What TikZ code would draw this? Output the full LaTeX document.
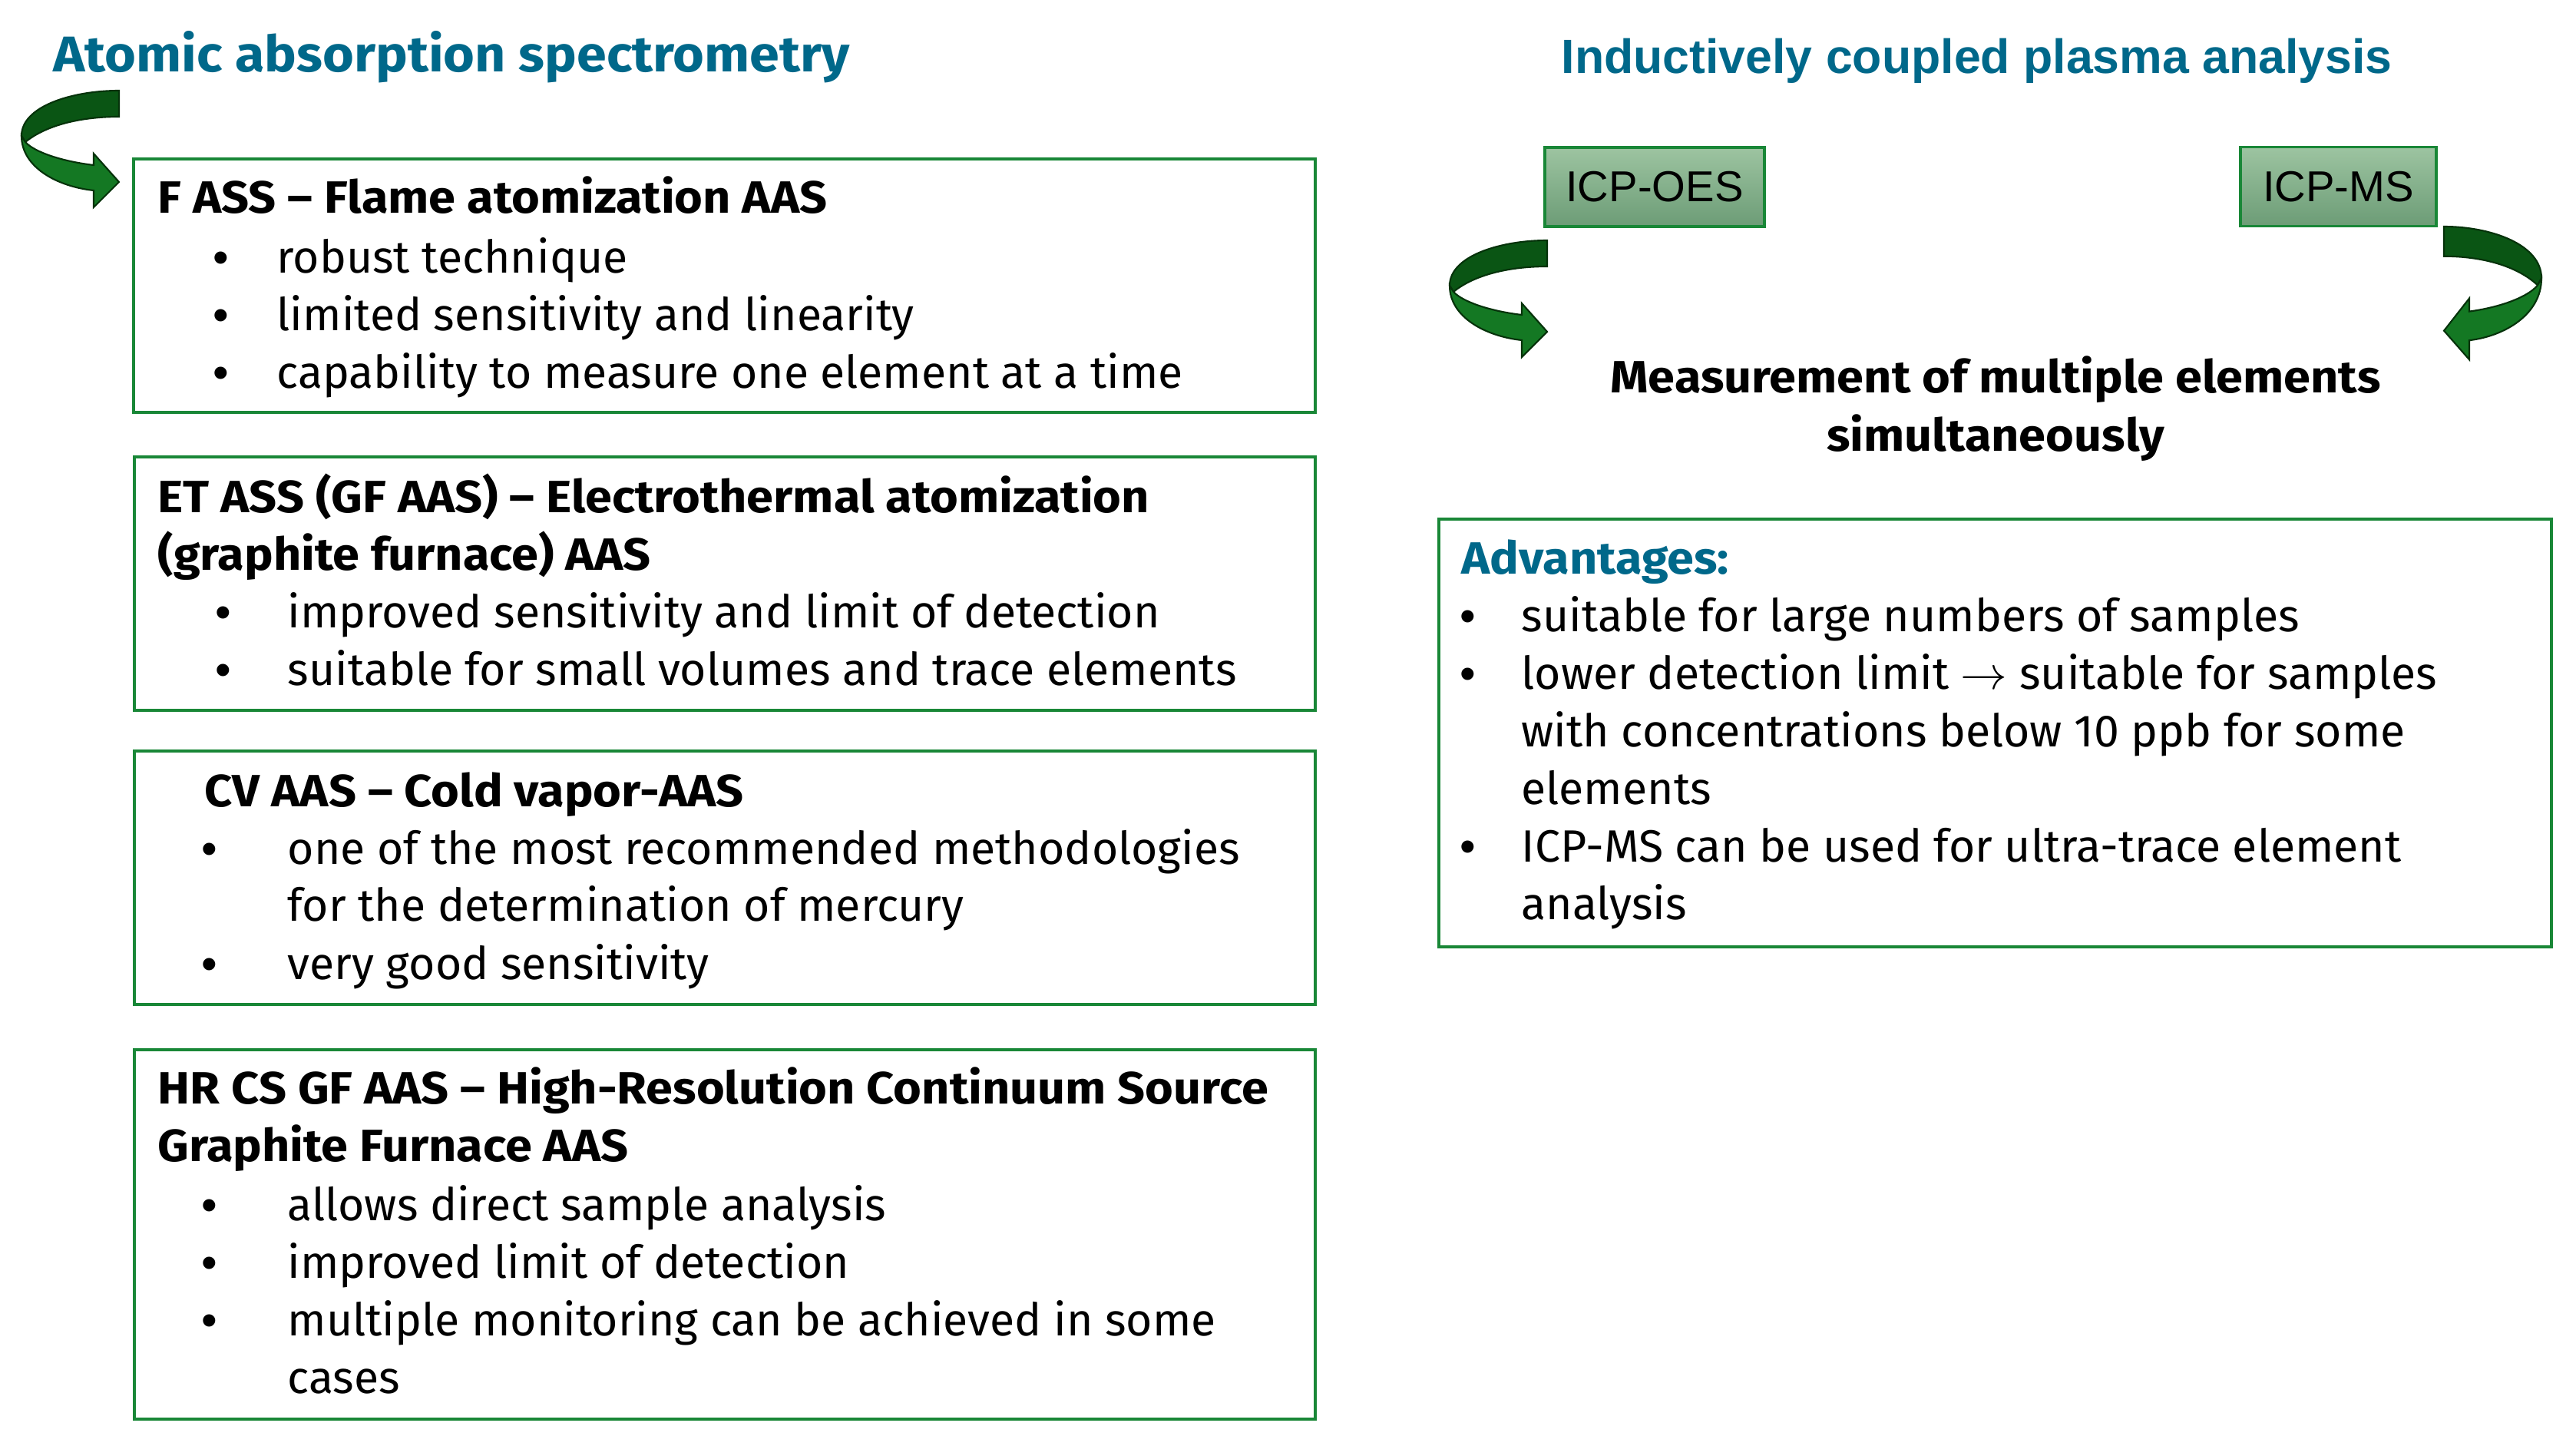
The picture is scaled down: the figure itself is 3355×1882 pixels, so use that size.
\documentclass[tikz,border=0pt]{standalone}
\usepackage{fontspec}
\setmainfont{Fira Sans}[BoldFeatures={FakeStretch=1.07}]
\newfontfamily\arialfont{Liberation Sans}
\usetikzlibrary{positioning}

\definecolor{boxgreen}{RGB}{25,135,55}
\definecolor{headteal}{RGB}{0,104,138}
\definecolor{swirldark}{RGB}{10,85,20}
\definecolor{swirllight}{RGB}{20,120,35}
\definecolor{swirledge}{RGB}{5,50,10}
\definecolor{icptop}{RGB}{157,196,161}
\definecolor{icpbottom}{RGB}{108,156,118}

\newcommand\txtsize{\fontsize{16.75}{20}\selectfont}
\newcommand\headsize{\fontsize{18.6}{22}\selectfont}

\tikzset{
  boxframe/.style={draw=boxgreen, line width=1.2pt},
  sectionhead/.style={anchor=base west, inner sep=0pt, font=\headsize\bfseries, text=headteal},
  boxhead/.style={anchor=base west, inner sep=0pt, font=\txtsize\bfseries},
  itemtext/.style={anchor=base west, inner sep=0pt, font=\txtsize},
  bulletdot/.style={anchor=base, inner sep=0pt, font=\arialfont\txtsize},
  icpbox/.style={draw=boxgreen, line width=1pt, top color=icptop, bottom color=icpbottom,
    minimum height=1.03cm, font=\arialfont\fontsize{16}{19}\selectfont, inner sep=0pt},
  swirl/.pic={
    \filldraw[swirldark, draw=swirledge, line width=0.6pt] (0,0) .. controls (-60,0) and (-127,20) .. (-127,59)
      -- (-122,67) .. controls (-95,45) and (-50,34) .. (0,34) -- cycle;
    \filldraw[swirllight, draw=swirledge, line width=0.6pt] (-127,59) .. controls (-127,100) and (-80,125) .. (-33,130)
      -- (-33,152) -- (0,119) -- (-33,82) -- (-33,97) .. controls (-75,92) and (-110,80) .. (-122,67) -- cycle;
  }
}

\begin{document}
\begin{tikzpicture}[x=0.01cm, y=-0.01cm]
\fill[white] (0,0) rectangle (3355,1882);
\useasboundingbox (0,0) rectangle (3355,1882);

% titles
\node[sectionhead] (aastitle) at (69,94) {Atomic absorption spectrometry};
\node[sectionhead, font=\arialfont\fontsize{17.8}{22}\selectfont\bfseries] (icptitle) at (2033,96) {Inductively coupled plasma analysis};

% swirls
\pic at (155,118) {swirl};
\pic at (2015,313) {swirl};
\pic[xscale=-1, yscale=1.14] at (3183,295) {swirl};

% F AAS
\draw[boxframe] (174,207) rectangle (1713,537);
\node[boxhead] (fass) at (205,277) {F ASS – Flame atomization AAS};
\node[bulletdot] (fassd1) at (288,355) {•};
\node[itemtext] (fass1) at (360,355) {robust technique};
\node[bulletdot] (fassd2) at (288,430) {•};
\node[itemtext] (fass2) at (360,430) {limited sensitivity and linearity};
\node[bulletdot] (fassd3) at (288,505) {•};
\node[itemtext] (fass3) at (360,505) {capability to measure one element at a time};

% ET AAS
\draw[boxframe] (175,595) rectangle (1713,925);
\node[boxhead] (etaas) at (205,667) {ET ASS (GF AAS) – Electrothermal atomization};
\node[boxhead] (etaasb) at (205,742) {(graphite furnace) AAS};
\node[bulletdot] (etd1) at (291,817) {•};
\node[itemtext] (et1) at (374,817) {improved sensitivity and limit of detection};
\node[bulletdot] (etd2) at (291,892) {•};
\node[itemtext] (et2) at (374,892) {suitable for small volumes and trace elements};

% CV AAS
\draw[boxframe] (175,978) rectangle (1713,1308);
\node[boxhead] (cvaas) at (266,1050) {CV AAS – Cold vapor-AAS};
\node[bulletdot] (cvd1) at (273,1125) {•};
\node[itemtext] (cv1) at (374,1125) {one of the most recommended methodologies};
\node[itemtext] (cv1b) at (374,1199) {for the determination of mercury};
\node[bulletdot] (cvd2) at (273,1275) {•};
\node[itemtext] (cv2) at (374,1275) {very good sensitivity};

% HR CS GF AAS
\draw[boxframe] (175,1367) rectangle (1713,1848);
\node[boxhead] (hraas) at (205,1437) {HR CS GF AAS – High-Resolution Continuum Source};
\node[boxhead] (hraasb) at (205,1512) {Graphite Furnace AAS};
\node[bulletdot] (hrd1) at (273,1589) {•};
\node[itemtext] (hr1) at (374,1589) {allows direct sample analysis};
\node[bulletdot] (hrd2) at (273,1664) {•};
\node[itemtext] (hr2) at (374,1664) {improved limit of detection};
\node[bulletdot] (hrd3) at (273,1739) {•};
\node[itemtext] (hr3) at (374,1739) {multiple monitoring can be achieved in some};
\node[itemtext] (hr3b) at (374,1814) {cases};

% ICP techniques
\node[icpbox, minimum width=2.86cm] (icpoes) at (2155,243.5) {ICP-OES};
\node[icpbox, minimum width=2.55cm] (icpms) at (3045.5,243) {ICP-MS};

\node[boxhead, anchor=base] (multi) at (2599,511) {Measurement of multiple elements};
\node[boxhead, anchor=base] (multib) at (2599,587) {simultaneously};

% advantages
\draw[boxframe] (1874,676) rectangle (3323,1233);
\node[boxhead, text=headteal] (adv) at (1903,747) {Advantages:};
\node[bulletdot] (advd1) at (1912,822) {•};
\node[itemtext] (adv1) at (1981,822) {suitable for large numbers of samples};
\node[bulletdot] (advd2) at (1912,897) {•};
\node[itemtext] (adv2) at (1981,897) {lower detection limit $\rightarrow$ suitable for samples};
\node[itemtext] (adv2b) at (1981,972) {with concentrations below 10 ppb for some};
\node[itemtext] (adv2c) at (1981,1047) {elements};
\node[bulletdot] (advd3) at (1912,1122) {•};
\node[itemtext] (adv3) at (1981,1122) {ICP-MS can be used for ultra-trace element};
\node[itemtext] (adv3b) at (1981,1197) {analysis};
\end{tikzpicture}
\end{document}
